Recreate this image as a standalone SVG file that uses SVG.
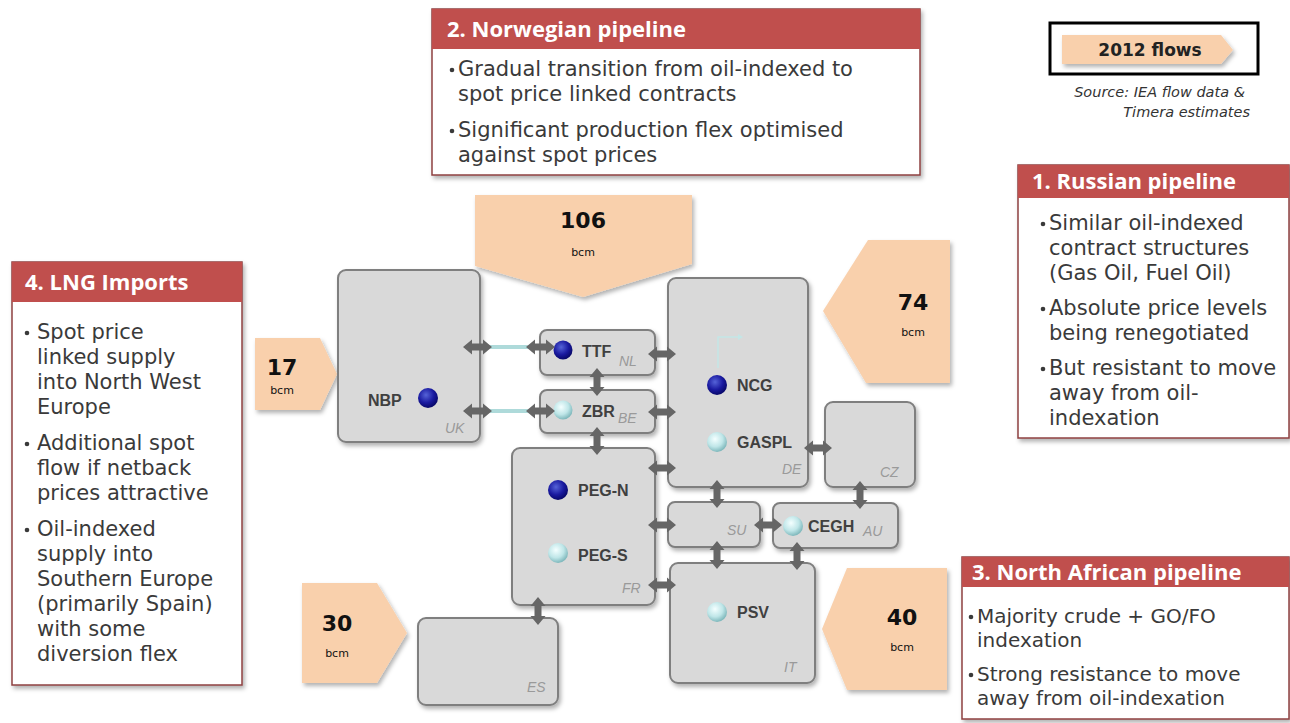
<svg xmlns="http://www.w3.org/2000/svg" width="1290" height="723" viewBox="0 0 1290 723">
<defs>
<style>
.card{fill:#fff;stroke:#8e4040;stroke-width:1.5}
.hdr{fill:#C0504D}
.ht{font-family:"Open Sans","DejaVu Sans",sans-serif;font-weight:bold;font-size:22px;fill:#fff}
.bt{font-family:"DejaVu Sans",sans-serif;font-size:21px;fill:#3a3a3a}
.bt2{font-family:"DejaVu Sans",sans-serif;font-size:20px;fill:#3a3a3a}
.bul{fill:#3a3a3a}
.box{fill:#d9d9d9;stroke:#7f7f7f;stroke-width:2}
.nt{font-family:"Liberation Sans",Arial,sans-serif;font-weight:bold;font-size:16px;fill:#404040}
.ct{font-family:"Liberation Sans",Arial,sans-serif;font-style:italic;font-size:14px;fill:#9a9a9a}
.flow{fill:#F9D0AC}
.num{font-family:"DejaVu Sans",sans-serif;font-weight:bold;font-size:22px;fill:#111;text-anchor:middle}
.unit{font-family:"DejaVu Sans",sans-serif;font-size:11px;fill:#111;text-anchor:middle}
.dbl{fill:#666}
.link{stroke:#aedada;stroke-width:4;fill:none}
.src{font-family:"DejaVu Sans",sans-serif;font-style:italic;font-size:14.5px;fill:#333;text-anchor:end}
</style>
<filter id="sh" x="-10%" y="-10%" width="130%" height="130%">
<feDropShadow dx="2" dy="3" stdDeviation="2" flood-color="#000" flood-opacity="0.3"/>
</filter>
<radialGradient id="blue" cx="40%" cy="35%" r="65%">
<stop offset="0" stop-color="#5563d8"/>
<stop offset="0.6" stop-color="#1a1aa0"/>
<stop offset="1" stop-color="#08086a"/>
</radialGradient>
<radialGradient id="cyan" cx="40%" cy="35%" r="65%">
<stop offset="0" stop-color="#f4ffff"/>
<stop offset="0.6" stop-color="#bfe6e8"/>
<stop offset="1" stop-color="#7fb8bc"/>
</radialGradient>
</defs>
<rect width="1290" height="723" fill="#fff"/>

<!-- Legend -->
<g id="legend">
<rect x="1050" y="23" width="208" height="51" fill="#fff" stroke="#000" stroke-width="3"/>
<polygon class="flow" filter="url(#sh)" points="1062,35 1221,35 1233,50 1221,64 1062,64"/>
<text x="1150" y="56" font-family="DejaVu Sans,sans-serif" font-weight="bold" font-size="17" fill="#222" text-anchor="middle">2012 flows</text>
<text class="src" x="1245" y="97">Source: IEA flow data &amp;</text>
<text class="src" x="1250" y="117">Timera estimates</text>
</g>

<!-- Cards -->
<g id="card-norwegian" filter="url(#sh)">
<rect class="card" x="432" y="9" width="488" height="166"/>
<rect class="hdr" x="432" y="9" width="488" height="40"/>
</g>
<g id="card-norwegian-text">
<text class="ht" x="447" y="37">2. Norwegian pipeline</text>
<circle class="bul" cx="452" cy="70" r="2.3"/>
<text class="bt" x="458" y="76">Gradual transition from oil-indexed to</text>
<text class="bt" x="458" y="101">spot price linked contracts</text>
<circle class="bul" cx="452" cy="131" r="2.3"/>
<text class="bt" x="458" y="137">Significant production flex optimised</text>
<text class="bt" x="458" y="162">against spot prices</text>
</g>

<g id="card-russian" filter="url(#sh)">
<rect class="card" x="1018" y="165" width="271" height="273"/>
<rect class="hdr" x="1018" y="165" width="271" height="33"/>
</g>
<g id="card-russian-text">
<text class="ht" x="1032" y="189">1. Russian pipeline</text>
<circle class="bul" cx="1043" cy="224" r="2.3"/>
<text class="bt" x="1049" y="230">Similar oil-indexed</text>
<text class="bt" x="1049" y="255">contract structures</text>
<text class="bt" x="1049" y="280">(Gas Oil, Fuel Oil)</text>
<circle class="bul" cx="1043" cy="309" r="2.3"/>
<text class="bt" x="1049" y="315">Absolute price levels</text>
<text class="bt" x="1049" y="340">being renegotiated</text>
<circle class="bul" cx="1043" cy="369" r="2.3"/>
<text class="bt" x="1049" y="375">But resistant to move</text>
<text class="bt" x="1049" y="400">away from oil-</text>
<text class="bt" x="1049" y="425">indexation</text>
</g>

<g id="card-lng" filter="url(#sh)">
<rect class="card" x="12" y="262" width="230" height="423"/>
<rect class="hdr" x="12" y="262" width="230" height="40"/>
</g>
<g id="card-lng-text">
<text class="ht" x="25" y="290">4. LNG Imports</text>
<circle class="bul" cx="27" cy="333" r="2.3"/>
<text class="bt" x="37" y="339">Spot price</text>
<text class="bt" x="37" y="364">linked supply</text>
<text class="bt" x="37" y="389">into North West</text>
<text class="bt" x="37" y="414">Europe</text>
<circle class="bul" cx="27" cy="444" r="2.3"/>
<text class="bt" x="37" y="450">Additional spot</text>
<text class="bt" x="37" y="475">flow if netback</text>
<text class="bt" x="37" y="500">prices attractive</text>
<circle class="bul" cx="27" cy="530" r="2.3"/>
<text class="bt" x="37" y="536">Oil-indexed</text>
<text class="bt" x="37" y="561">supply into</text>
<text class="bt" x="37" y="586">Southern Europe</text>
<text class="bt" x="37" y="611">(primarily Spain)</text>
<text class="bt" x="37" y="636">with some</text>
<text class="bt" x="37" y="661">diversion flex</text>
</g>

<g id="card-northafrican" filter="url(#sh)">
<rect class="card" x="962" y="557" width="327" height="162"/>
<rect class="hdr" x="962" y="557" width="327" height="30"/>
</g>
<g id="card-northafrican-text">
<text class="ht" x="972" y="580">3. North African pipeline</text>
<circle class="bul" cx="971" cy="617" r="2.3"/>
<text class="bt2" x="977" y="623">Majority crude + GO/FO</text>
<text class="bt2" x="977" y="647">indexation</text>
<circle class="bul" cx="971" cy="675" r="2.3"/>
<text class="bt2" x="977" y="681">Strong resistance to move</text>
<text class="bt2" x="977" y="705">away from oil-indexation</text>
</g>

<!-- Flow arrows -->
<g id="flow-106">
<polygon class="flow" filter="url(#sh)" points="475,195 692,195 692,264 583,297 475,266"/>
<text class="num" x="583" y="228">106</text>
<text class="unit" x="583" y="256">bcm</text>
</g>
<g id="flow-17">
<polygon class="flow" filter="url(#sh)" points="255,338 320,338 337,374 320,410 255,410"/>
<text class="num" x="282" y="375">17</text>
<text class="unit" x="282" y="394" font-size="12">bcm</text>
</g>
<g id="flow-74">
<polygon class="flow" filter="url(#sh)" points="868,240 950,240 950,383 866,383 823,311"/>
<text class="num" x="913" y="310">74</text>
<text class="unit" x="913" y="336">bcm</text>
</g>
<g id="flow-40">
<polygon class="flow" filter="url(#sh)" points="847,568 947,568 947,690 847,690 822,629"/>
<text class="num" x="902" y="625">40</text>
<text class="unit" x="902" y="651">bcm</text>
</g>
<g id="flow-30">
<polygon class="flow" filter="url(#sh)" points="302,583 377,583 407,633 377,683 302,683"/>
<text class="num" x="337" y="631">30</text>
<text class="unit" x="337" y="657">bcm</text>
</g>

<!-- Hub nodes -->
<g id="node-uk">
<rect class="box" filter="url(#sh)" x="338" y="270" width="142" height="172" rx="8"/>
<text class="nt" x="368" y="406">NBP</text>
<circle cx="428" cy="398" r="10" fill="url(#blue)"/>
<text class="ct" x="445" y="433">UK</text>
</g>
<g id="node-nl">
<rect class="box" filter="url(#sh)" x="540" y="330" width="115" height="45" rx="7"/>
<circle cx="563" cy="350" r="9.5" fill="url(#blue)"/>
<text class="nt" x="582" y="357">TTF</text>
<text class="ct" x="619" y="366" font-size="13">NL</text>
</g>
<g id="node-be">
<rect class="box" filter="url(#sh)" x="540" y="390" width="115" height="43" rx="7"/>
<circle cx="563" cy="410" r="9.5" fill="url(#cyan)"/>
<text class="nt" x="582" y="417">ZBR</text>
<text class="ct" x="618" y="423" font-size="13">BE</text>
</g>
<g id="node-de">
<rect class="box" filter="url(#sh)" x="668" y="278" width="140" height="209" rx="8"/>
<path d="M718 368 V337 H738" fill="none" stroke="#c4e6e6" stroke-width="1.5"/>
<path d="M738 334 L743 337 L738 340 Z" fill="#c4e6e6"/>
<circle cx="717" cy="385" r="10" fill="url(#blue)"/>
<text class="nt" x="737" y="391">NCG</text>
<circle cx="717" cy="442" r="10" fill="url(#cyan)"/>
<text class="nt" x="737" y="448">GASPL</text>
<text class="ct" x="782" y="474">DE</text>
</g>
<g id="node-cz">
<rect class="box" filter="url(#sh)" x="825" y="402" width="90" height="85" rx="8"/>
<text class="ct" x="880" y="477">CZ</text>
</g>
<g id="node-fr">
<rect class="box" filter="url(#sh)" x="512" y="448" width="143" height="157" rx="8"/>
<circle cx="558" cy="490" r="10" fill="url(#blue)"/>
<text class="nt" x="578" y="496">PEG-N</text>
<circle cx="558" cy="553" r="10" fill="url(#cyan)"/>
<text class="nt" x="578" y="561">PEG-S</text>
<text class="ct" x="622" y="593">FR</text>
</g>
<g id="node-su">
<rect class="box" filter="url(#sh)" x="668" y="502" width="92" height="45" rx="7"/>
<text class="ct" x="727" y="535">SU</text>
</g>
<g id="node-au">
<rect class="box" filter="url(#sh)" x="773" y="503" width="125" height="45" rx="7"/>
<circle cx="793" cy="526" r="10" fill="url(#cyan)"/>
<text class="nt" x="808" y="532">CEGH</text>
<text class="ct" x="863" y="536">AU</text>
</g>
<g id="node-it">
<rect class="box" filter="url(#sh)" x="670" y="563" width="145" height="120" rx="8"/>
<circle cx="717" cy="612" r="10" fill="url(#cyan)"/>
<text class="nt" x="737" y="618">PSV</text>
<text class="ct" x="784" y="672">IT</text>
</g>
<g id="node-es">
<rect class="box" filter="url(#sh)" x="418" y="618" width="140" height="87" rx="8"/>
<text class="ct" x="527" y="692">ES</text>
</g>

<!-- Connectors -->
<g id="connectors">
<line class="link" x1="490" y1="347" x2="528" y2="347"/>
<line class="link" x1="490" y1="411" x2="528" y2="411"/>
<path class="dbl" d="M463 347 L472 339.5 L472 343.5 L483 343.5 L483 339.5 L492 347 L483 354.5 L483 350.5 L472 350.5 L472 354.5 Z"/>
<path class="dbl" d="M526 347 L535 339.5 L535 343.5 L546 343.5 L546 339.5 L555 347 L546 354.5 L546 350.5 L535 350.5 L535 354.5 Z"/>
<path class="dbl" d="M463 411 L472 403.5 L472 407.5 L483 407.5 L483 403.5 L492 411 L483 418.5 L483 414.5 L472 414.5 L472 418.5 Z"/>
<path class="dbl" d="M526 411 L535 403.5 L535 407.5 L546 407.5 L546 403.5 L555 411 L546 418.5 L546 414.5 L535 414.5 L535 418.5 Z"/>
<path class="dbl" d="M648 354 L657 346.5 L657 350.5 L667 350.5 L667 346.5 L676 354 L667 361.5 L667 357.5 L657 357.5 L657 361.5 Z"/>
<path class="dbl" d="M648 412 L657 404.5 L657 408.5 L667 408.5 L667 404.5 L676 412 L667 419.5 L667 415.5 L657 415.5 L657 419.5 Z"/>
<path class="dbl" d="M648 468 L657 460.5 L657 464.5 L667 464.5 L667 460.5 L676 468 L667 475.5 L667 471.5 L657 471.5 L657 475.5 Z"/>
<path class="dbl" d="M648 525 L657 517.5 L657 521.5 L667 521.5 L667 517.5 L676 525 L667 532.5 L667 528.5 L657 528.5 L657 532.5 Z"/>
<path class="dbl" d="M648 585 L657 577.5 L657 581.5 L667 581.5 L667 577.5 L676 585 L667 592.5 L667 588.5 L657 588.5 L657 592.5 Z"/>
<path class="dbl" d="M804 448 L813 440.5 L813 444.5 L823 444.5 L823 440.5 L832 448 L823 455.5 L823 451.5 L813 451.5 L813 455.5 Z"/>
<path class="dbl" d="M754 525 L763 517.5 L763 521.5 L773 521.5 L773 517.5 L782 525 L773 532.5 L773 528.5 L763 528.5 L763 532.5 Z"/>
<path class="dbl" d="M597 368 L604.5 377 L600.5 377 L600.5 387 L604.5 387 L597 396 L589.5 387 L593.5 387 L593.5 377 L589.5 377 Z"/>
<path class="dbl" d="M597 427 L604.5 436 L600.5 436 L600.5 446 L604.5 446 L597 455 L589.5 446 L593.5 446 L593.5 436 L589.5 436 Z"/>
<path class="dbl" d="M717 480 L724.5 489 L720.5 489 L720.5 499 L724.5 499 L717 508 L709.5 499 L713.5 499 L713.5 489 L709.5 489 Z"/>
<path class="dbl" d="M860 481 L867.5 490 L863.5 490 L863.5 500 L867.5 500 L860 509 L852.5 500 L856.5 500 L856.5 490 L852.5 490 Z"/>
<path class="dbl" d="M717 541 L724.5 550 L720.5 550 L720.5 560 L724.5 560 L717 569 L709.5 560 L713.5 560 L713.5 550 L709.5 550 Z"/>
<path class="dbl" d="M797 542 L804.5 551 L800.5 551 L800.5 561 L804.5 561 L797 570 L789.5 561 L793.5 561 L793.5 551 L789.5 551 Z"/>
<path class="dbl" d="M538 597 L545.5 606 L541.5 606 L541.5 616 L545.5 616 L538 625 L530.5 616 L534.5 616 L534.5 606 L530.5 606 Z"/>
</g>
</svg>
